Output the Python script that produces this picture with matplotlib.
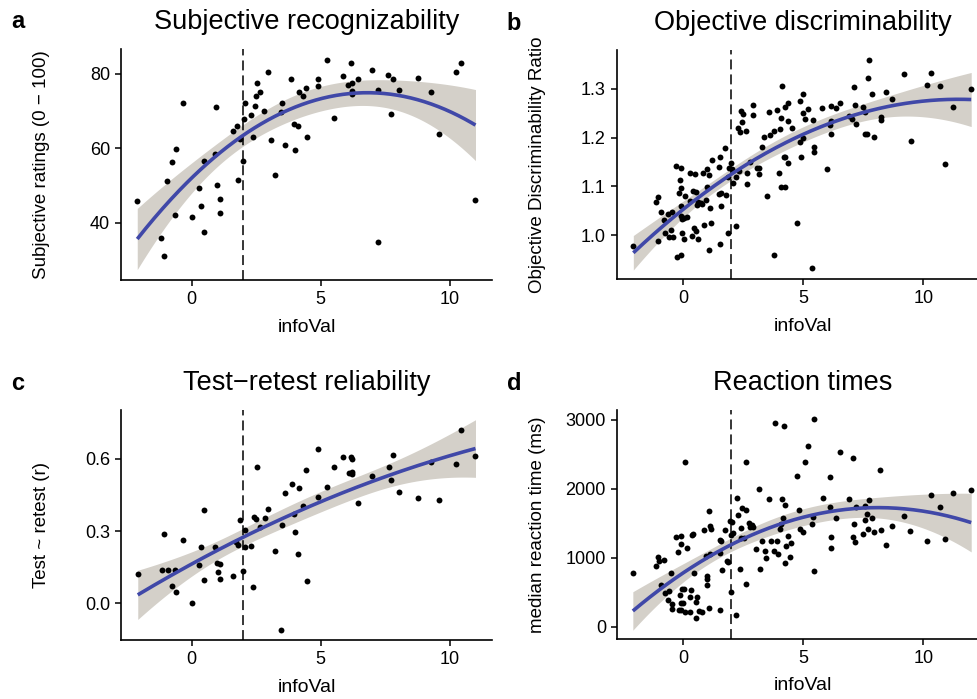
import numpy as np
import matplotlib.pyplot as plt

plt.rcParams['font.family'] = ['Liberation Sans', 'DejaVu Sans']

# a: subjective recognizability
info_a = [-2.11, -0.33, 0.95, -0.61, -0.78, -0.95, 0.48, 0.89, 0.27, 0.99, 0.36, 1.08,
          -0.65, 0.00, 1.10, 0.48, -1.18, -1.09, 1.81, 1.99, 1.86, 1.61, 1.74, 2.04,
          2.08, 2.29, 2.44, 2.48, 2.64, 2.52, 2.95, 2.38, 2.81, 3.07, 3.22, 3.62,
          3.99, 3.45, 3.50, 3.85, 3.95, 4.13, 4.46, 4.15, 4.30, 4.42, 4.88, 4.88,
          5.24, 6.17, 5.85, 6.07, 6.20, 6.45, 6.20, 6.20, 6.98, 7.21, 5.50, 7.62,
          7.79, 8.03, 7.72, 8.78, 9.28, 9.57, 10.23, 10.43, 11.00, 7.21]
rating_a = [45.8, 72.1, 71.0, 59.9, 56.4, 51.4, 56.6, 58.4, 49.3, 50.1, 44.6, 46.5,
            42.2, 41.7, 42.6, 37.5, 35.9, 31.1, 51.6, 56.6, 62.5, 64.7, 66.0, 67.8,
            72.2, 69.0, 71.5, 74.2, 75.2, 77.7, 80.5, 63.1, 70.1, 62.4, 52.9, 60.9,
            59.5, 69.9, 72.2, 78.7, 66.6, 66.0, 63.0, 75.2, 74.1, 76.3, 78.6, 76.9,
            83.8, 82.9, 79.5, 77.1, 77.5, 78.6, 75.4, 74.5, 81.1, 75.6, 68.1, 79.7,
            78.6, 75.8, 69.3, 79.0, 75.2, 63.8, 80.6, 83.0, 46.1, 35.0]

# b: objective discriminability
info_b = [-2.08, -1.07, -1.15, -1.04, -0.94, -0.79, -0.64, -0.48, -0.75, -0.51, -0.61, -0.44,
          -0.32, -0.10, -0.12, -0.19, -0.08, 0.06, -0.10, -0.10, 0.03, 0.14, -0.05, -0.07,
          0.03, -0.25, -0.08, 0.28, 0.50, 0.40, 0.52, 0.28, 0.63, 0.56, 0.72, 0.46,
          0.54, 0.36, 0.60, 0.83, 0.97, 1.07, 1.00, 0.96, 0.79, 1.10, 0.88, 1.14,
          1.07, 1.18, 1.53, 1.51, 1.56, 1.50, 1.58, 1.78, 1.72, 1.53, 1.85, 1.97,
          1.89, 2.04, 1.88, 2.06, 2.20, 2.18, 2.32, 2.28, 2.40, 2.47, 2.46, 2.35,
          2.61, 2.92, 2.90, 2.64, 2.64, 2.79, 3.17, 3.17, 3.06, 3.28, 3.38, 3.47,
          3.57, 3.60, 3.79, 3.89, 4.04, 4.10, 4.25, 4.08, 4.35, 4.35, 3.97, 4.18,
          4.38, 4.07, 4.23, 3.78, 4.23, 4.86, 5.00, 4.99, 5.07, 5.21, 5.39, 4.53,
          4.86, 5.00, 5.43, 5.46, 4.90, 4.74, 5.35, 6.00, 5.79, 6.14, 6.36, 6.54,
          6.14, 6.11, 6.14, 7.13, 7.14, 6.90, 7.05, 7.20, 7.50, 7.56, 7.75, 7.71,
          7.85, 7.56, 7.67, 7.96, 8.24, 8.25, 8.47, 8.70, 9.18, 9.49, 10.14, 10.32,
          10.71, 11.25, 10.89, 12.00]
ratio_b = [0.978, 0.987, 1.068, 1.079, 1.047, 1.031, 1.043, 1.048, 1.005, 1.010, 0.995, 0.996,
           1.142, 1.137, 1.113, 1.086, 1.097, 1.081, 1.059, 1.040, 1.036, 1.038, 1.033, 1.005,
           0.991, 0.955, 0.958, 1.127, 1.125, 1.091, 1.088, 1.070, 1.068, 1.062, 1.066, 1.014,
           1.009, 0.998, 0.992, 1.128, 1.136, 1.124, 1.099, 1.072, 1.064, 1.055, 1.021, 1.024,
           0.969, 1.155, 1.161, 1.140, 1.087, 1.084, 1.060, 1.082, 1.179, 0.982, 1.005, 1.147,
           1.138, 1.136, 1.120, 1.107, 1.018, 1.120, 1.132, 1.220, 1.255, 1.248, 1.233, 1.212,
           1.213, 1.268, 1.246, 1.128, 1.104, 1.151, 1.125, 1.138, 1.137, 1.181, 1.201, 1.080,
           1.252, 1.205, 1.214, 1.257, 1.218, 1.307, 1.263, 1.240, 1.272, 1.235, 1.128, 1.160,
           1.147, 1.098, 1.098, 0.959, 1.160, 1.275, 1.289, 1.251, 1.239, 1.259, 1.236, 1.220,
           1.192, 1.200, 1.181, 1.170, 1.161, 1.025, 0.933, 1.136, 1.261, 1.265, 1.261, 1.272,
           1.234, 1.226, 1.207, 1.304, 1.267, 1.244, 1.238, 1.229, 1.263, 1.253, 1.360, 1.323,
           1.289, 1.208, 1.207, 1.201, 1.243, 1.236, 1.294, 1.279, 1.331, 1.194, 1.309, 1.332,
           1.307, 1.263, 1.145, 1.299]

# c: test-retest reliability
info_c = [-2.09, -1.07, -1.17, -0.93, -0.64, -0.77, -0.59, -0.32, 0.00, 0.28, 0.38, 0.48,
          0.48, 0.90, 0.98, 1.10, 1.01, 1.11, 1.61, 1.73, 1.81, 1.86, 1.99, 2.08,
          2.06, 2.29, 2.37, 2.52, 2.42, 2.50, 2.65, 2.83, 2.96, 3.22, 3.45, 3.50,
          3.62, 3.87, 3.96, 4.00, 4.14, 4.13, 4.31, 4.43, 4.48, 4.89, 4.89, 5.26,
          5.52, 5.86, 6.17, 6.21, 6.08, 6.21, 6.23, 6.45, 6.98, 7.63, 7.80, 7.73,
          8.04, 8.79, 9.28, 9.59, 10.24, 10.43, 11.00]
retest_c = [0.120, 0.286, 0.138, 0.136, 0.138, 0.072, 0.047, 0.261, 0.000, 0.160, 0.232, 0.388,
            0.095, 0.232, 0.167, 0.164, 0.129, 0.099, 0.113, 0.253, 0.240, 0.346, 0.135, 0.304,
            0.235, 0.238, 0.068, 0.565, 0.357, 0.349, 0.315, 0.353, 0.390, 0.218, -0.113, 0.325,
            0.457, 0.495, 0.370, 0.297, 0.478, 0.204, 0.403, 0.553, 0.093, 0.640, 0.440, 0.485,
            0.568, 0.608, 0.610, 0.599, 0.543, 0.547, 0.538, 0.418, 0.531, 0.565, 0.617, 0.513,
            0.461, 0.439, 0.588, 0.429, 0.579, 0.720, 0.611]

# d: median reaction times
info_d = [-2.10, 0.06, -1.15, -1.04, -1.01, -0.79, -0.53, -0.94, -0.76, -0.60, -0.64, -0.47,
          -0.48, -0.32, -0.10, -0.10, -0.21, 0.14, -0.05, -0.12, 0.03, 0.31, -0.11, 0.00,
          -0.19, -0.08, 0.07, 0.27, 0.52, 0.29, 0.53, 0.58, 0.65, 0.79, 1.06, 0.35,
          0.42, 0.46, 0.85, 1.06, 1.11, 1.15, 0.93, 1.10, 0.98, 1.00, 0.99, 1.52,
          1.53, 1.58, 1.53, 1.60, 1.72, 1.81, 1.85, 1.93, 2.00, 1.97, 2.08, 2.04,
          2.20, 2.27, 2.25, 2.36, 2.39, 2.46, 2.61, 2.40, 2.53, 2.61, 2.63, 2.75,
          2.85, 2.92, 2.79, 3.03, 3.17, 3.18, 3.29, 3.39, 3.45, 3.56, 3.64, 3.77,
          3.81, 3.89, 3.95, 4.04, 4.06, 4.10, 4.17, 4.21, 4.23, 4.23, 4.28, 4.36,
          4.43, 4.50, 4.72, 4.81, 4.85, 5.46, 5.21, 5.07, 5.39, 5.36, 5.00, 5.43,
          5.81, 6.13, 6.13, 6.38, 6.15, 6.15, 6.54, 6.92, 7.08, 7.21, 7.13, 7.06,
          7.15, 7.50, 7.57, 7.57, 7.67, 7.74, 7.70, 7.85, 7.96, 8.22, 8.25, 8.47,
          8.71, 9.20, 9.47, 10.14, 10.33, 10.70, 10.89, 11.25, 12.00]
rt_d = [780, 2386, 881, 1012, 954, 968, 775, 605, 494, 518, 388, 330,
        252, 1298, 1312, 1196, 1089, 1142, 547, 460, 547, 537, 340, 340,
        247, 242, 213, 213, 126, 435, 363, 435, 232, 218, 267, 1327,
        1341, 784, 1408, 1679, 1466, 1414, 1030, 1059, 740, 692, 601, 238,
        1263, 1248, 1074, 819, 1399, 958, 935, 1534, 1331, 504, 1356, 1520,
        170, 1621, 1872, 837, 1292, 1723, 1694, 1433, 1283, 2395, 624, 1509,
        1476, 1447, 1451, 1128, 1994, 833, 1248, 1103, 993, 1849, 1248, 1103,
        2956, 1248, 1055, 1418, 1491, 1849, 1573, 2917, 1766, 925, 1167, 1312,
        1016, 1210, 2187, 1694, 1414, 3010, 2623, 2395, 1592, 1491, 1379, 808,
        1872, 2177, 1737, 1582, 1306, 1138, 2531, 1853, 2448, 1737, 1486, 1298,
        1225, 1341, 1747, 1544, 1636, 1834, 1422, 1582, 1370, 2270, 1408, 1190,
        1457, 1607, 1385, 1248, 1911, 1737, 1277, 1940, 1988]

W, H = 978, 699
fig = plt.figure(figsize=(W / 100, H / 100), dpi=100)


def quad_fit(x, y, n=200):
    # y ~ x + x^2 with a 95% confidence band
    x = np.asarray(x, float)
    y = np.asarray(y, float)
    X = np.column_stack([np.ones_like(x), x, x ** 2])
    beta, *_ = np.linalg.lstsq(X, y, rcond=None)
    resid = y - X @ beta
    s2 = resid @ resid / (len(x) - 3)
    cov = s2 * np.linalg.inv(X.T @ X)
    xs = np.linspace(x.min(), x.max(), n)
    G = np.column_stack([np.ones_like(xs), xs, xs ** 2])
    fit = G @ beta
    se = np.sqrt(np.einsum('ij,jk,ik->i', G, cov, G))
    return xs, fit, fit - 1.98 * se, fit + 1.98 * se


def panel(box, x, y, xlim, ylim, yticks, yticklabels, title, ylabel, letter):
    # box in pixels: left, right, top, bottom
    left, right, top, bottom = box
    wpx, hpx = right - left, bottom - top
    ax = fig.add_axes([left / W, 1 - bottom / H, wpx / W, hpx / H])
    xs, fit, lo, hi = quad_fit(x, y)
    ax.fill_between(xs, lo, hi, color='#d4d0c9', lw=0, zorder=1)
    ax.axvline(2, color='black', lw=1.1, ls=(0, (6.5, 3.3)), zorder=2)
    ax.scatter(x, y, s=18, color='black', lw=0, zorder=3)
    ax.plot(xs, fit, color='#4048a8', lw=2.6, zorder=4, solid_capstyle='butt')
    ax.set_xlim(*xlim)
    ax.set_ylim(*ylim)
    ax.set_xticks([0, 5, 10])
    ax.set_yticks(yticks)
    ax.set_yticklabels(yticklabels)
    for s in ['top', 'right']:
        ax.spines[s].set_visible(False)
    for s in ['left', 'bottom']:
        ax.spines[s].set_linewidth(1.2)
    ax.tick_params(length=4.5, width=1.1, labelsize=13, pad=3.5, colors='black')

    # text placed by pixel offsets from the axes box
    ax.set_xlabel('infoVal', fontsize=14, va='center')
    ax.xaxis.set_label_coords(0.5, -47 / hpx)
    ax.set_ylabel(ylabel, fontsize=13.5, va='center')
    ax.yaxis.set_label_coords(-79 / wpx, 0.5)
    ax.text(0.5, 1 + 27 / hpx, title, transform=ax.transAxes,
            ha='center', va='center', fontsize=19.5)
    ax.text(-103 / wpx, 1 + 27 / hpx, letter, transform=ax.transAxes,
            ha='center', va='center', fontsize=17, fontweight='bold')
    return ax


panel((121, 492, 49, 280), info_a, rating_a, (-2.74, 11.64), (24.7, 86.7),
      [40, 60, 80], ['40', '60', '80'], 'Subjective recognizability',
      'Subjective ratings (0 − 100)', 'a')
panel((617, 988, 50, 279), info_b, ratio_b, (-2.76, 12.70), (0.9097, 1.380),
      [1.0, 1.1, 1.2, 1.3], ['1.0', '1.1', '1.2', '1.3'], 'Objective discriminability',
      'Objective Discriminability Ratio', 'b')
panel((121, 492, 410, 640), info_c, retest_c, (-2.74, 11.64), (-0.154, 0.804),
      [0.0, 0.3, 0.6], ['0.0', '0.3', '0.6'], 'Test−retest reliability',
      'Test ~ retest (r)', 'c')
panel((617, 988, 410, 639), info_d, rt_d, (-2.76, 12.70), (-178, 3145),
      [0, 1000, 2000, 3000], ['0', '1000', '2000', '3000'], 'Reaction times',
      'median reaction time (ms)', 'd')

fig.savefig('out.png', dpi=100)
